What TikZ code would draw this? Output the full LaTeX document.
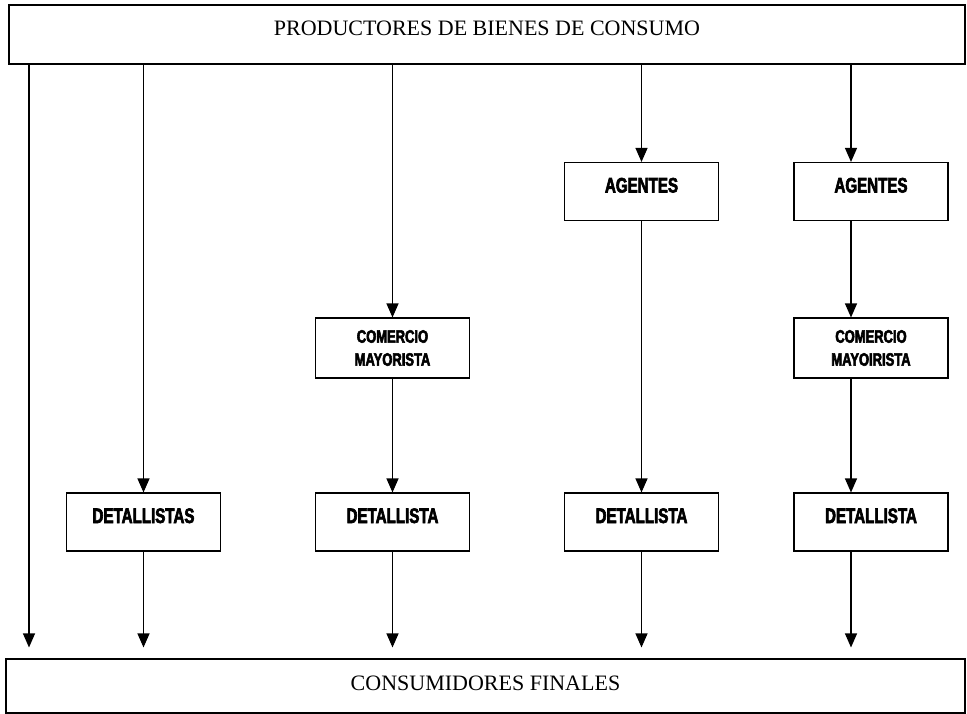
\documentclass[tikz,border=0pt]{standalone}
\usepackage{fontspec}
\setmainfont{Liberation Serif}
\newfontfamily\cajafont[FakeStretch=0.72,FakeBold=3]{Liberation Sans Bold}
\usetikzlibrary{arrows.meta}

\begin{document}
\begin{tikzpicture}[
x=1pt, y=-1pt,
>={Triangle[length=14pt,width=12pt]},
flecha/.style={->, line width=1.1pt},
franja/.style={
		draw=black,
		line width=1.1pt,
		inner sep=0pt,
		text height=31pt,
		text depth=28pt,
		font=\fontsize{22}{26}\selectfont,
		},
caja/.style={
		draw=black,
		line width=1.1pt,
		inner sep=0pt,
		minimum width=154pt,
		text height=30pt,
		text depth=28pt,
		font=\cajafont\fontsize{21}{24}\selectfont,
		},
cajados/.style={
		draw=black,
		line width=1.1pt,
		inner sep=0pt,
		minimum width=154pt,
		minimum height=60pt,
		align=center,
		font=\cajafont\fontsize{18}{23}\selectfont,
		}
]

\useasboundingbox (0,0) rectangle (967,714);

\def \yag {191.5}
\def \ycom {348}
\def \ydet {522}

% bandas de arriba y abajo
\node[franja, minimum width=956pt] (prod) at (487,34.5) {PRODUCTORES DE BIENES DE CONSUMO};
\node[franja, minimum width=959pt, text height=31pt, text depth=23pt] (cons) at (485.5,686) {CONSUMIDORES FINALES};

% cajas intermedias
\node[caja] (ageA) at (641.5,\yag) {AGENTES};
\node[caja] (ageB) at (871,\yag) {AGENTES};
\node[cajados] (comA) at (392.5,\ycom) {COMERCIO\\MAYORISTA};
\node[cajados] (comB) at (871,\ycom) {COMERCIO\\MAYOIRISTA};
\node[caja] (detA) at (143.5,\ydet) {DETALLISTAS};
\node[caja] (detB) at (392.5,\ydet) {DETALLISTA};
\node[caja] (detC) at (641.5,\ydet) {DETALLISTA};
\node[caja] (detD) at (871,\ydet) {DETALLISTA};

% posicion de cada canal
\coordinate (c1) at (29,0);
\coordinate (c2) at (143.5,0);
\coordinate (c3) at (392.5,0);
\coordinate (c4) at (641.5,0);
\coordinate (c5) at (851,0);

% flechas que bajan desde los productores
\foreach \c/\b in {c2/detA, c3/comA, c4/ageA, c5/ageB}
{
  \draw[flecha] (prod.south -| \c) -- (\b.north -| \c);
}
\draw[flecha, shorten >=11pt] (prod.south -| c1) -- (cons.north -| c1);

% entre cajas
\foreach \c/\a/\b in {c3/comA/detB, c4/ageA/detC, c5/ageB/comB, c5/comB/detD}
{
  \draw[flecha] (\a.south -| \c) -- (\b.north -| \c);
}

% hasta los consumidores
\foreach \c/\a in {c2/detA, c3/detB, c4/detC, c5/detD}
{
  \draw[flecha, shorten >=11pt] (\a.south -| \c) -- (cons.north -| \c);
}

\end{tikzpicture}
\end{document}
